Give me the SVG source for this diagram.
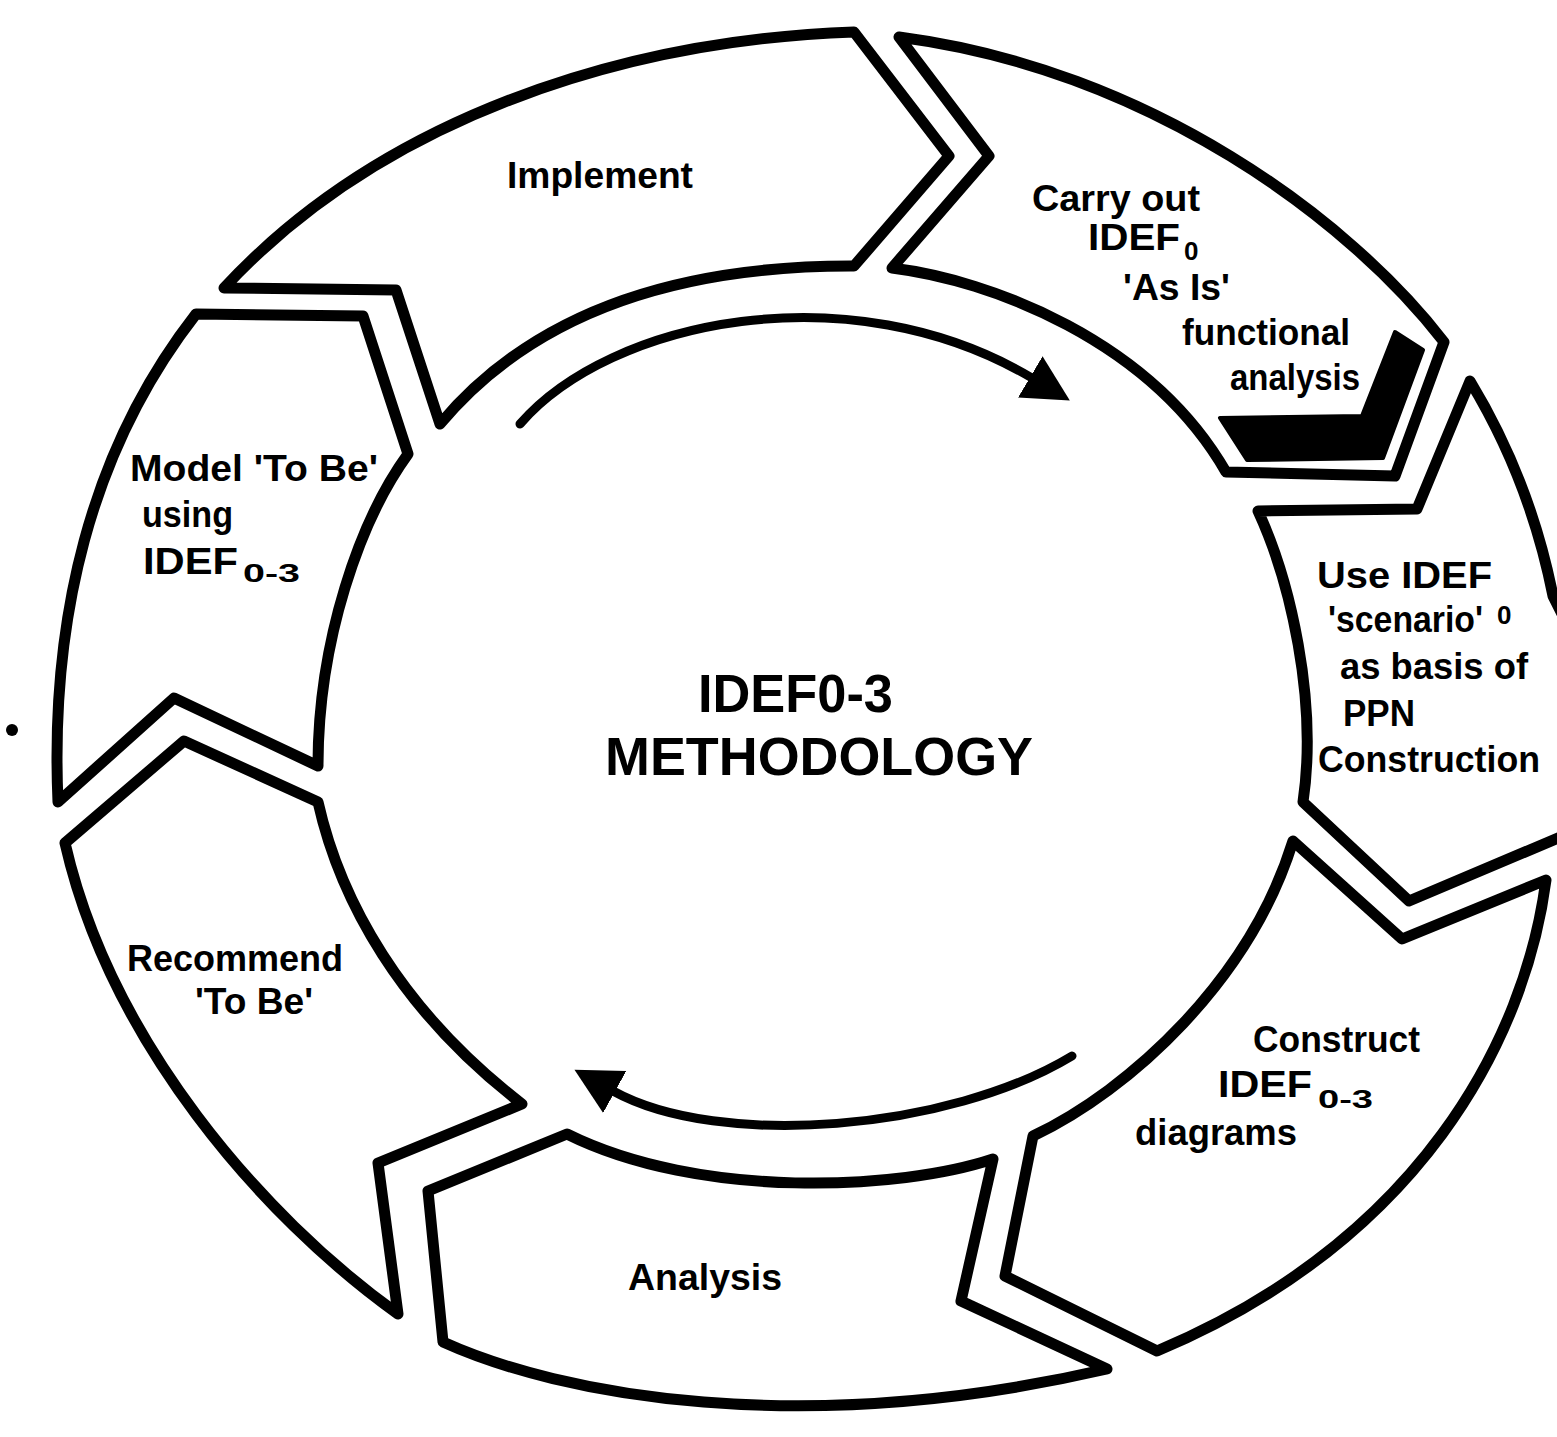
<svg xmlns="http://www.w3.org/2000/svg" width="1557" height="1437" viewBox="0 0 1557 1437">
  <style>
    .seg { fill: #ffffff; stroke: #000000; stroke-width: 11; stroke-linejoin: round; stroke-linecap: round; }
    .flow { fill: none; stroke: #000000; stroke-width: 9; stroke-linecap: round; }
    .lbl { font-family: "Liberation Sans", Arial, sans-serif; font-weight: bold; font-size: 36px; fill: #000000; }
    .sub { font-family: "Liberation Sans", Arial, sans-serif; font-weight: bold; font-size: 26px; fill: #000000; }
    .title { font-family: "Liberation Sans", Arial, sans-serif; font-weight: bold; font-size: 54px; fill: #000000; }
  </style>
  <defs>
    <marker id="head" markerUnits="userSpaceOnUse" markerWidth="52" markerHeight="52" viewBox="0 -26 52 52" refX="2" refY="0" orient="auto">
      <path d="M0,-24 L46,0 L0,24 Z" fill="#000000"/>
    </marker>
  </defs>

  <rect x="0" y="0" width="1557" height="1437" fill="#ffffff"/>

  <!-- cycle direction arrows inside the ring -->
  <g id="connectors">
    <path class="flow" d="M520,424 C610,320 850,270 1032,378" marker-end="url(#head)"/>
    <path class="flow" d="M1072,1056 C950,1130 720,1150 613,1091" marker-end="url(#head)"/>
  </g>

  <!-- ring segments, clockwise from the top -->
  <g id="implement">
    <path class="seg" d="M224,288 L396,290 L440,424 Q573,265 854,266 L949,156 L854,32 C620,40 380,120 224,288 Z"/>
    <text class="lbl" x="507" y="188" textLength="186" lengthAdjust="spacingAndGlyphs">Implement</text>
  </g>

  <g id="carry-out">
    <path class="seg" d="M899,37 L989,156 L892,268 C990,280 1150,340 1226,472 L1395,476 L1444,342 C1350,220 1150,70 899,37 Z"/>
    <path d="M1220,418 L1362,416 L1395,332 L1423,350 L1383,458 L1247,460 Z" fill="#000000" stroke="#000000" stroke-width="4" stroke-linejoin="round"/>
    <text class="lbl" x="1032" y="211" textLength="168" lengthAdjust="spacingAndGlyphs">Carry out</text>
    <text class="lbl" x="1088" y="250" textLength="92" lengthAdjust="spacingAndGlyphs">IDEF</text>
    <text class="sub" x="1184" y="260">0</text>
    <text class="lbl" x="1123" y="300" textLength="107" lengthAdjust="spacingAndGlyphs">'As Is'</text>
    <text class="lbl" x="1182" y="345" textLength="168" lengthAdjust="spacingAndGlyphs">functional</text>
    <text class="lbl" x="1230" y="390" textLength="130" lengthAdjust="spacingAndGlyphs">analysis</text>
  </g>

  <g id="use-scenario">
    <path class="seg" d="M1470,381 L1417,509 L1258,511 C1290,580 1318,700 1303,802 L1409,901 L1570,833 L1575,640 L1553,596 Q1530,480 1470,381 Z"/>
    <text class="lbl" x="1317" y="588" textLength="175" lengthAdjust="spacingAndGlyphs">Use IDEF</text>
    <text class="lbl" x="1328" y="632" textLength="155" lengthAdjust="spacingAndGlyphs">'scenario'</text>
    <text class="sub" x="1497" y="624" font-size="24">0</text>
    <text class="lbl" x="1340" y="679" textLength="188" lengthAdjust="spacingAndGlyphs">as basis of</text>
    <text class="lbl" x="1343" y="726" textLength="72" lengthAdjust="spacingAndGlyphs">PPN</text>
    <text class="lbl" x="1318" y="772" textLength="222" lengthAdjust="spacingAndGlyphs">Construction</text>
  </g>

  <g id="construct">
    <path class="seg" d="M1293,841 L1402,939 L1546,880 C1525,1040 1420,1240 1157,1351 L1005,1276 L1033,1136 C1130,1090 1250,980 1293,841 Z"/>
    <text class="lbl" x="1253" y="1052" textLength="167" lengthAdjust="spacingAndGlyphs">Construct</text>
    <text class="lbl" x="1218" y="1097" textLength="94" lengthAdjust="spacingAndGlyphs">IDEF</text>
    <text class="sub" x="1318" y="1108" textLength="55" lengthAdjust="spacingAndGlyphs">0-3</text>
    <text class="lbl" x="1135" y="1145" textLength="162" lengthAdjust="spacingAndGlyphs">diagrams</text>
  </g>

  <g id="analysis">
    <path class="seg" d="M567,1134 L428,1191 L443,1342 C560,1395 800,1440 1107,1369 L961,1301 L993,1159 C900,1190 700,1200 567,1134 Z"/>
    <text class="lbl" x="628" y="1290" textLength="154" lengthAdjust="spacingAndGlyphs">Analysis</text>
  </g>

  <g id="recommend">
    <path class="seg" d="M184,741 L318,802 C340,900 400,1010 522,1104 L378,1163 L398,1314 C260,1215 110,1040 65,843 Z"/>
    <text class="lbl" x="127" y="971" textLength="216" lengthAdjust="spacingAndGlyphs">Recommend</text>
    <text class="lbl" x="195" y="1014" textLength="118" lengthAdjust="spacingAndGlyphs">'To Be'</text>
  </g>

  <g id="model-to-be">
    <path class="seg" d="M196,314 L363,316 L408,454 C360,520 318,640 318,766 L174,698 L58,802 C50,620 90,450 196,314 Z"/>
    <text class="lbl" x="130" y="481" textLength="248" lengthAdjust="spacingAndGlyphs">Model 'To Be'</text>
    <text class="lbl" x="142" y="527" textLength="91" lengthAdjust="spacingAndGlyphs">using</text>
    <text class="lbl" x="143" y="574" textLength="95" lengthAdjust="spacingAndGlyphs">IDEF</text>
    <text class="sub" x="243" y="582" textLength="57" lengthAdjust="spacingAndGlyphs">0-3</text>
  </g>

  <g id="methodology">
    <text class="title" x="698" y="712" textLength="195" lengthAdjust="spacingAndGlyphs">IDEF0-3</text>
    <text class="title" x="605" y="775" textLength="428" lengthAdjust="spacingAndGlyphs">METHODOLOGY</text>
  </g>

  <circle cx="12" cy="730" r="6" fill="#000000"/>
</svg>
